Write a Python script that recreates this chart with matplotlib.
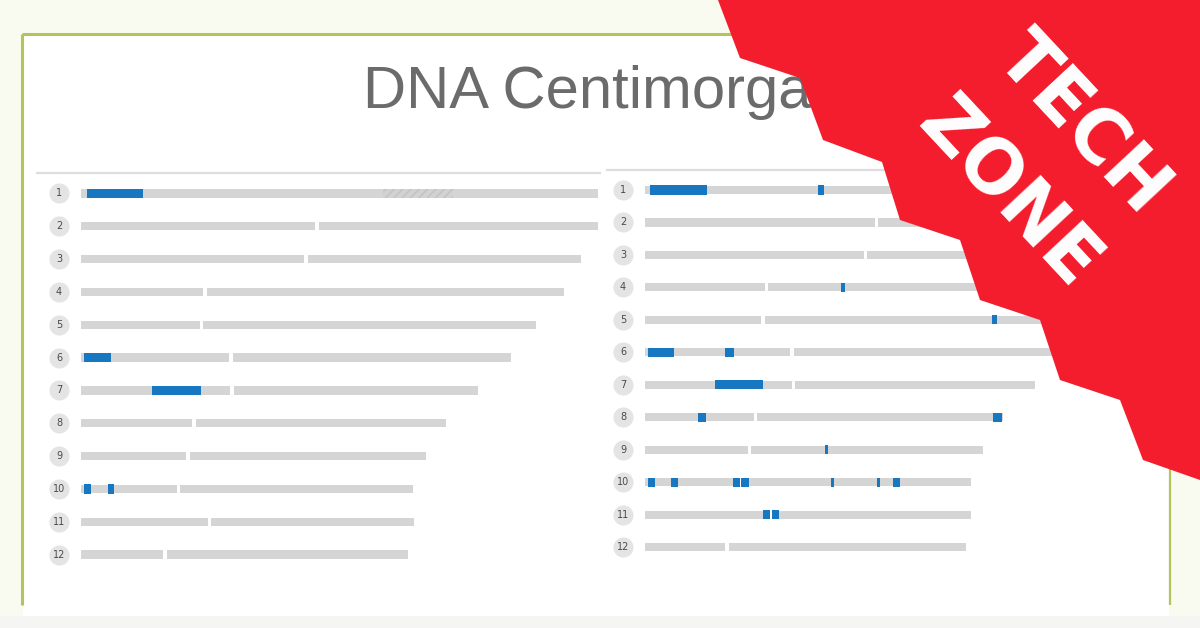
import matplotlib
matplotlib.use('Agg')
import matplotlib.pyplot as plt
from matplotlib.patches import Polygon, Rectangle

# ---------------- data ----------------
chromosomes = [str(i) for i in range(1, 13)]
chrom_length_mb = [249, 242, 200, 193, 182, 172, 159, 146, 138, 133, 133, 131]
centromere_mb = [123, 94.5, 90, 49.7, 48.2, 60, 60.5, 45.2, 42.7, 39, 51.4, 33.5]
heterochromatin_chrom = [1]
heterochromatin_start = [121.0]
heterochromatin_end = [149.0]

# shared DNA segments, left comparison (chromosome, start Mb, end Mb)
left_match_chrom = [1, 6, 7, 10, 10]
left_match_start = [2.3, 1.2, 28.4, 1.2, 10.8]
left_match_end = [24.8, 12.0, 48.0, 4.0, 13.2]

# shared DNA segments, right comparison
right_match_chrom = [1, 1, 4, 5, 6, 6, 7, 8, 8, 9, 10, 10, 10, 10, 10, 10, 11]
right_match_start = [2.0, 70.6, 80.0, 141.6, 1.2, 32.7, 28.6, 21.6, 142.0, 73.5,
                     1.2, 10.6, 35.9, 75.9, 94.7, 101.2, 48.2]
right_match_end = [25.3, 73.1, 81.6, 143.7, 11.8, 36.3, 48.2, 24.9, 145.7, 74.7,
                   4.1, 13.5, 42.4, 77.1, 95.9, 104.1, 54.7]

title_text = 'DNA Centimorgans'
banner_lines = ['TECH', 'ZONE']

# ---------------- style ----------------
W, H = 1200, 628
GRAY = '#d5d5d5'
BLUE = '#1777c0'
CIRCLE = '#e4e4e4'
NUM = '#4a4a4a'
GAP = 0.7
BLUE_GAP = 0.35
BAR_H = 0.25
BLUE_H = 0.28

fig = plt.figure(figsize=(W / 100, H / 100), dpi=100)
fig.patch.set_facecolor('#fafbf0')

# background / frame
bg = fig.add_axes([0, 0, 1, 1], zorder=0)
bg.set_xlim(0, W)
bg.set_ylim(H, 0)
bg.axis('off')
bg.add_patch(Rectangle((23, 35), 1146, 600, facecolor='white', edgecolor='none'))
bg.add_patch(Rectangle((0, 616), W, 12, facecolor='#f5f5f3', edgecolor='none'))
frame_c = '#b4c45c'
bg.plot([22, 1170], [34, 34], color=frame_c, lw=2.2, solid_capstyle='butt')
bg.plot([22, 22], [34, 605], color=frame_c, lw=2.2, solid_capstyle='butt')
bg.plot([1170, 1170], [34, 605], color=frame_c, lw=1.6, solid_capstyle='butt')
bg.plot([37, 600], [173, 173], color='#dddddd', lw=1.6)
bg.plot([607, 1150], [170, 170], color='#dddddd', lw=1.6)
bg.text(363, 108, title_text, fontsize=43, color='#6b6b6b',
        family='Liberation Sans', ha='left', va='baseline')


def draw_panel(ax, mstart_chrom, mstart, mend, num_x):
    rows = list(range(1, len(chromosomes) + 1))
    # gray chromosome arms split at centromere
    p_len = [c - GAP for c in centromere_mb]
    q_left = [c + GAP for c in centromere_mb]
    q_len = [L - q for L, q in zip(chrom_length_mb, q_left)]
    ax.barh(rows, p_len, left=0, height=BAR_H, color=GRAY, edgecolor='none')
    ax.barh(rows, q_len, left=q_left, height=BAR_H, color=GRAY, edgecolor='none')
    # matched segments
    for ch, s, e in zip(mstart_chrom, mstart, mend):
        cen = centromere_mb[ch - 1]
        if s < cen < e:
            pieces = [(s, cen - BLUE_GAP), (cen + BLUE_GAP, e)]
        else:
            pieces = [(s, e)]
        for a, b in pieces:
            ax.barh([ch], [b - a], left=[a], height=BLUE_H, color=BLUE,
                    edgecolor='none', zorder=3)
    # number badges
    tr = ax.get_yaxis_transform()
    ax.scatter([num_x] * len(rows), rows, s=210, color=CIRCLE, transform=tr,
               clip_on=False, zorder=2, linewidths=0)
    for r, name in zip(rows, chromosomes):
        ax.text(num_x, r, name, transform=tr, ha='center', va='center',
                fontsize=7, color=NUM, family='DejaVu Sans', zorder=4,
                clip_on=False)


# left panel
axl = fig.add_axes([81 / W, 1 - 571 / H, 517 / W, (571 - 177) / H], zorder=1)
axl.set_xlim(0, 517 / 2.5)
axl.set_ylim(12.5, 0.5)
axl.axis('off')
draw_panel(axl, left_match_chrom, left_match_start, left_match_end, -22 / 517)
for ch, s, e in zip(heterochromatin_chrom, heterochromatin_start, heterochromatin_end):
    axl.barh([ch], [e - s], left=[s], height=BAR_H, color='#d2d2d2',
             edgecolor='#c2c2c2', hatch='////', linewidth=0, zorder=2)

# right panel
axr = fig.add_axes([645 / W, 1 - 563.3 / H, 545 / W, (563.3 - 173.8) / H], zorder=1)
axr.set_xlim(0, 545 / 2.45)
axr.set_ylim(12.5, 0.5)
axr.axis('off')
draw_panel(axr, right_match_chrom, right_match_start, right_match_end, -22 / 545)

# overlay banner
ov = fig.add_axes([0, 0, 1, 1], zorder=10)
ov.set_xlim(0, W)
ov.set_ylim(H, 0)
ov.axis('off')
ov.patch.set_alpha(0)
banner_shape = [(718, 0), (740, 58), (800, 78), (823, 140), (882, 162), (900, 220),
                (960, 240), (980, 300), (1040, 320), (1060, 380), (1120, 400),
                (1143, 460), (1200, 480), (1200, 0)]
ov.add_patch(Polygon(banner_shape, closed=True, facecolor='#f41d2d', edgecolor='none'))
ov.text(1082, 124, banner_lines[0], rotation=-47, rotation_mode='anchor',
        ha='center', va='center', fontsize=53, fontweight='bold', color='white',
        family='DejaVu Sans')
ov.text(1008, 195, banner_lines[1], rotation=-47, rotation_mode='anchor',
        ha='center', va='center', fontsize=53, fontweight='bold', color='white',
        family='DejaVu Sans')

fig.savefig('out.png', dpi=100, facecolor=fig.get_facecolor())
